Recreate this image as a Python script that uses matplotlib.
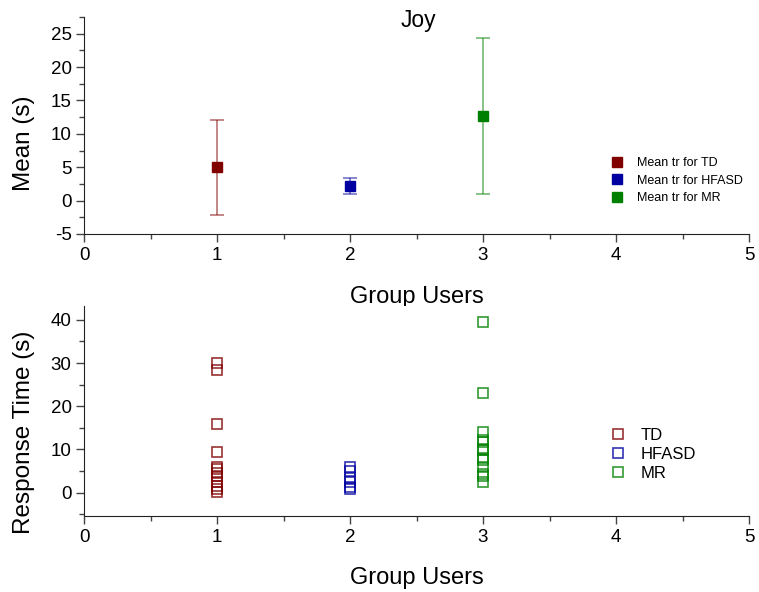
import matplotlib
matplotlib.use("Agg")
import matplotlib.pyplot as plt
from matplotlib.ticker import MultipleLocator

plt.rcParams['font.family'] = ['Liberation Sans', 'DejaVu Sans']
plt.rcParams['axes.unicode_minus'] = False

groups = ["TD", "HFASD", "MR"]
group_x = [1, 2, 3]
colors = ["#800000", "#0000A0", "#008000"]

# mean response time and its spread per group
mean_tr = [5.0, 2.2, 12.7]
err_tr = [7.1, 1.25, 11.7]

# individual response times per group
rt_td = [30.1, 28.4, 16.0, 9.3, 6.0, 5.5, 4.6, 3.9, 2.5, 1.6, 0.8, 0.2]
rt_hfasd = [6.0, 5.0, 3.5, 2.5, 1.3, 0.8]
rt_mr = [39.6, 23.1, 14.0, 12.2, 11.8, 10.2, 9.8, 8.0, 7.6, 6.0, 4.3, 3.8, 2.5]
rt_all = [rt_td, rt_hfasd, rt_mr]

W, H = 759, 592
fig = plt.figure(figsize=(W / 100, H / 100), dpi=100)

def axes_px(left, top, right, bottom):
    return fig.add_axes([left / W, 1 - bottom / H, (right - left) / W, (bottom - top) / H])

def fig_pt(x, y):
    return (x / W, 1 - y / H)

ax1 = axes_px(84, 17, 749, 234)
ax2 = axes_px(84, 306, 749, 516)

for ax in (ax1, ax2):
    ax.spines['top'].set_visible(False)
    ax.spines['right'].set_visible(False)
    for s in ('left', 'bottom'):
        ax.spines[s].set_color('#222222')
    ax.set_xlim(0, 5)
    ax.xaxis.set_major_locator(MultipleLocator(1))
    ax.xaxis.set_minor_locator(MultipleLocator(0.5))
    ax.tick_params(which='major', direction='out', length=6, width=1, labelsize=13.5,
                   color='#444444', pad=3)
    ax.tick_params(which='minor', direction='out', length=3.3, width=1, color='#444444')
    ax.set_xlabel("Group Users", fontsize=17)

# top panel: means with error bars
for x, m, e, c, g in zip(group_x, mean_tr, err_tr, colors, groups):
    ax1.errorbar([x], [m], yerr=[e], fmt='none', ecolor=c, alpha=0.55, elinewidth=1.2,
                 capsize=5, capthick=1.2, zorder=2)
    ax1.plot([x], [m], 's', color=c, markersize=7.5, zorder=3, label=f"Mean tr for {g}")
ax1.set_ylim(-5, 27.5)
ax1.yaxis.set_major_locator(MultipleLocator(5))
ax1.yaxis.set_minor_locator(MultipleLocator(2.5))
ax1.set_ylabel("Mean (s)", fontsize=17.5)
ax1.yaxis.set_label_coords(-0.074, 0.42)
ax1.xaxis.set_label_coords(0.5, -0.24)
ax1.legend(loc='upper left', bbox_to_anchor=fig_pt(612, 157), bbox_transform=fig.transFigure,
           frameon=False, fontsize=9, borderpad=0, borderaxespad=0,
           handlelength=0.8, handletextpad=1.18, labelspacing=0.45, markerscale=0.9)

# bottom panel: individual response times
for x, vals, c, g in zip(group_x, rt_all, colors, groups):
    ax2.plot([x] * len(vals), vals, 's', markerfacecolor='none', markeredgecolor=c,
             markeredgewidth=1.2, markersize=6.5, alpha=0.8, linestyle='none', label=g)
ax2.set_ylim(-5.4, 43.2)
ax2.yaxis.set_major_locator(MultipleLocator(10))
ax2.yaxis.set_minor_locator(MultipleLocator(5))
ax2.set_ylabel("Response Time (s)", fontsize=17.5)
ax2.yaxis.set_label_coords(-0.074, 0.4)
ax2.xaxis.set_label_coords(0.5, -0.243)
ax2.legend(loc='upper left', bbox_to_anchor=fig_pt(613, 428), bbox_transform=fig.transFigure,
           frameon=False, fontsize=12, borderpad=0, borderaxespad=0,
           handlelength=0.6, handletextpad=1.03, labelspacing=0.23)

fig.text(418 / W, 1 - 20 / H, "Joy", ha='center', va='center', fontsize=16.5)

fig.savefig("out.png", dpi=100)
